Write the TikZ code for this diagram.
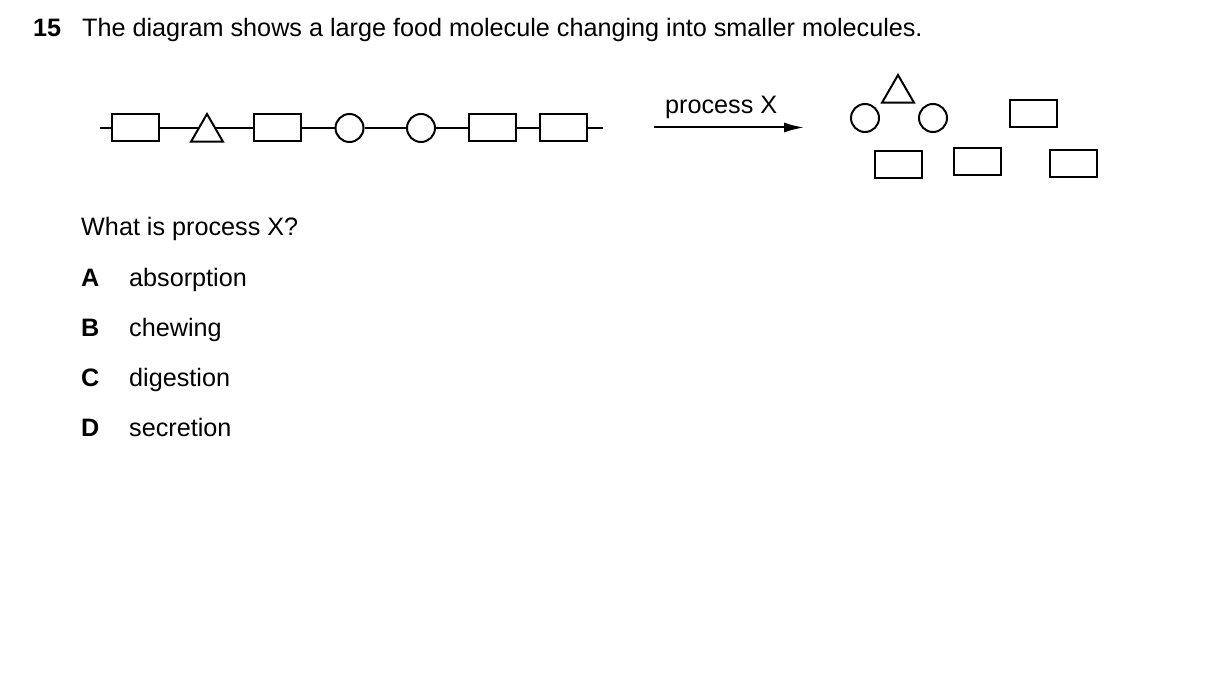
\documentclass[tikz,border=0pt]{standalone}
\usepackage{fontspec}
\setmainfont{Liberation Sans}
\usetikzlibrary{shapes.geometric,arrows.meta,backgrounds}
\begin{document}
\begin{tikzpicture}[x=1pt,y=-1pt,
    font=\fontsize{25.2}{30}\selectfont,
    unit/.style={draw,line width=2pt,fill=white,inner sep=0pt},
    block/.style={unit,rectangle,minimum width=47pt,minimum height=27pt},
    ring/.style={unit,circle,minimum size=28pt},
    tri/.style={unit,regular polygon,regular polygon sides=3,minimum size=37pt},
    txt/.style={anchor=base west,inner sep=0pt}]
  \useasboundingbox (0,0) rectangle (1209,692);
  % question text
  \node[txt] (num) at (33,37) {\bfseries 15};
  \node[txt] (head) at (82,37) {The diagram shows a large food molecule changing into smaller molecules.};
  % large molecule
  \draw
    (100,128) coordinate (cs)
    (603,128) coordinate (ce)
    (135.5,128) node[block] (r1){}
    (207,132.5) node[tri] (t1){}
    (277.5,128) node[block] (r2){}
    (349.5,128) node[ring] (c1){}
    (421,128) node[ring] (c2){}
    (492.5,128) node[block] (r3){}
    (563.5,128) node[block] (r4){};
  \begin{scope}[on background layer]
    \draw[line width=2pt] (cs) -- (r1) -- (t1 |- r1) -- (r2) -- (c1) -- (c2) -- (r3) -- (r4) -- (ce);
  \end{scope}
  % process arrow
  \draw
    (654,127.5) coordinate (as)
    (804,127.5) coordinate (ae);
  \node[txt] (proc) at (665,113.3) {process X};
  \draw[line width=2pt,-{Latex[length=20pt,width=10pt]}] (as) -- (ae);
  % smaller molecules
  \draw
    (865,118) node[ring] (cL){}
    (898,93.5) node[tri] (tR){}
    (933,118) node[ring] (cR){}
    (1033,114) node[block] (rA){}
    (898,165) node[block] (rB){}
    (977,162) node[block] (rC){}
    (1073.5,163.5) node[block] (rD){};
  % question and options
  \node[txt] (ask) at (81,235.5) {What is process X?};
  \foreach \l/\w [count=\i] in {A/absorption,B/chewing,C/digestion,D/secretion} {
    \node[txt] (l\l) at (81,{236.5+50*\i}) {\bfseries\l};
    \node[txt] (o\l) at (129,{236.5+50*\i}) {\w};
  }
\end{tikzpicture}
\end{document}
